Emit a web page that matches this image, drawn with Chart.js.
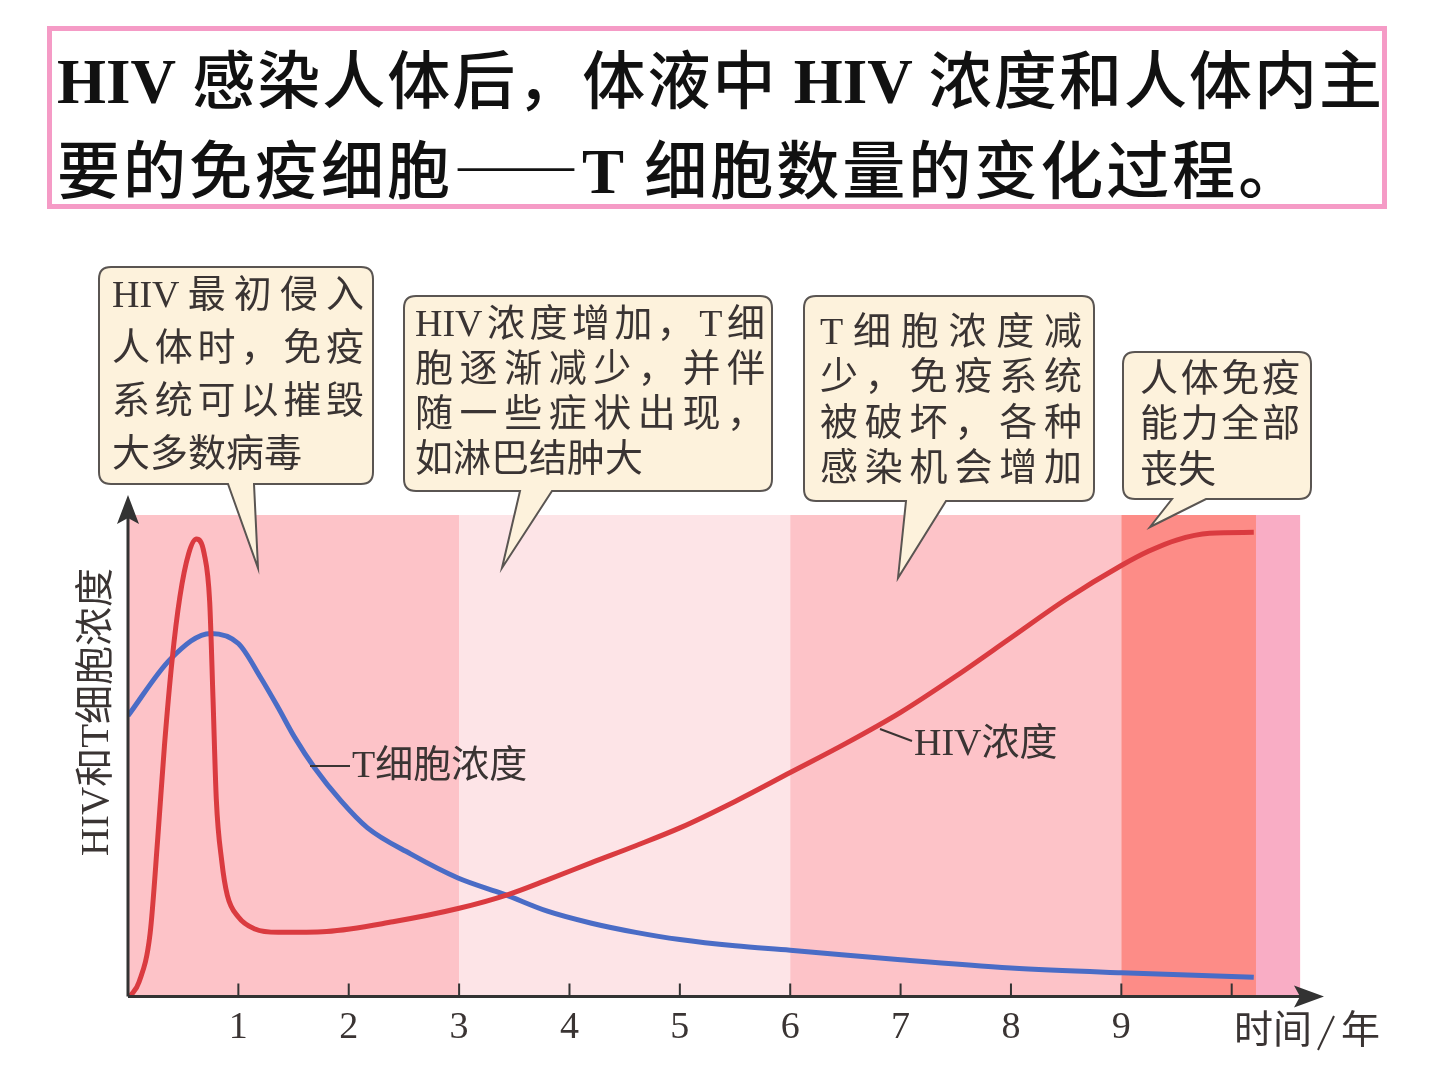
<!DOCTYPE html>
<html lang="zh">
<head>
<meta charset="utf-8">
<script src="https://cdn.jsdelivr.net/npm/chart.js@4.4.1/dist/chart.umd.min.js"></script>
<style>
    html, body { margin: 0; padding: 0; background: #fff; }
    #wrap { position: relative; width: 1440px; height: 1080px; }
    #title {
        position: absolute; left: 47px; top: 26px; width: 1325px; height: 173px;
        border: 5px solid #f59bc6; padding: 0 0 0 5px;
        font-family: "Noto Sans CJK SC", sans-serif; font-weight: 500;
        font-size: 63px; line-height: 90px; color: #111;
    }
    #title b { font-family: "Liberation Serif", serif; font-weight: bold; }
    #title div { white-space: nowrap; height: 90px; }
    #title .l1 { white-space: normal; text-align: justify; text-align-last: justify; }
    #title .l2 { letter-spacing: 3px; }
    canvas { position: absolute; left: 0; top: 0; }
</style>
</head>
<body>
<div id="wrap">
    <div id="title">
        <div class="l1"><b>HIV</b> 感染人体后，体液中 <b>HIV</b> 浓度和人体内主</div>
        <div class="l2">要的免疫细胞——<b>T</b> 细胞数量的变化过程。</div>
    </div>
    <canvas id="hiv" width="1440" height="1080"></canvas>
</div>
<script>
// 时间（年）与浓度（相对值，0-100）
const hivYears = [0.02, 0.1, 0.2, 0.27, 0.33, 0.4, 0.47, 0.55, 0.62, 0.69, 0.74, 0.77, 0.8, 0.85, 0.9, 1.0, 1.15, 1.36, 1.8, 2.4, 3.0, 3.45, 3.8, 4.2, 4.6, 5, 5.5, 6, 6.5, 7, 7.5, 8, 8.5, 9, 9.25, 9.5, 9.8, 10.2];
const hivLevel = [0, 3, 13, 33, 52, 70, 83, 92, 95, 92, 82, 62, 41, 28, 21, 16.5, 14, 13.3, 13.5, 15.5, 18.3, 21.2, 24.2, 27.8, 31.3, 35, 40.5, 46.5, 52.5, 59, 66.5, 74.5, 82.5, 89.5, 92.5, 94.8, 96.2, 96.4];
const tYears = [0, 0.39, 0.75, 1.0, 1.2, 1.36, 1.51, 1.69, 1.93, 2.17, 2.56, 2.99, 3.41, 3.8, 4.2, 4.6, 5, 5.5, 6, 7, 8, 9, 10.2];
const tLevel = [58.3, 70.2, 75.4, 73.3, 66.3, 60, 53.8, 47.5, 40.6, 35, 29.6, 24.6, 21.2, 17.7, 15.2, 13.3, 11.8, 10.5, 9.6, 7.6, 5.9, 4.9, 4.0];

const tickYears = [1, 2, 3, 4, 5, 6, 7, 8, 9];
const tickLabels = ['1', '2', '3', '4', '5', '6', '7', '8', '9'];

// 阶段背景
const stageEdges = [0, 3, 6, 9, 10.22, 10.62];
const stageColors = ['#fdc3c8', '#fde4e7', '#fdc3c8', '#fd8c87', '#f9adc5'];

const SERIF_CJK = '"Liberation Serif", "Noto Sans CJK SC", serif';

const notes = [
    { box: [99, 267, 274, 217], tail: [228, 254, 258, 568], lines: ['HIV最初侵入', '人体时，免疫', '系统可以摧毁', '大多数病毒'], x: 112, y: 297, gap: 53, w: 252, justify: [1, 1, 1, 0] },
    { box: [404, 296, 368, 195], tail: [520, 552, 502, 568], lines: ['HIV浓度增加，T细', '胞逐渐减少，并伴', '随一些症状出现，', '如淋巴结肿大'], x: 415, y: 326, gap: 45, w: 350, justify: [1, 1, 1, 0] },
    { box: [804, 296, 290, 205], tail: [906, 946, 898, 578], lines: ['T细胞浓度减', '少，免疫系统', '被破坏，各种', '感染机会增加'], x: 820, y: 334, gap: 45.5, w: 262, justify: [1, 1, 1, 1] },
    { box: [1123, 352, 188, 147], tail: [1172, 1206, 1150, 527], lines: ['人体免疫', '能力全部', '丧失'], x: 1140, y: 381, gap: 45.5, w: 160, justify: [1, 1, 0] }
];

function drawSpreadText(ctx, text, x, y, width, justify) {
    const parts = text.match(/[A-Za-z]+|./gu);
    const widths = parts.map(c => ctx.measureText(c).width);
    const natural = widths.reduce((a, b) => a + b, 0);
    const extra = justify && parts.length > 1 ? (width - natural) / (parts.length - 1) : 0;
    let cx = x;
    parts.forEach((c, i) => {
        ctx.fillText(c, cx, y);
        cx += widths[i] + extra;
    });
}

function drawNote(ctx, n) {
    const [x, y, w, h] = n.box;
    const [t1, t2, tx, ty] = n.tail;
    const r = 12;
    ctx.save();
    ctx.beginPath();
    ctx.moveTo(x + r, y);
    ctx.lineTo(x + w - r, y);
    ctx.quadraticCurveTo(x + w, y, x + w, y + r);
    ctx.lineTo(x + w, y + h - r);
    ctx.quadraticCurveTo(x + w, y + h, x + w - r, y + h);
    ctx.lineTo(t2, y + h);
    ctx.lineTo(tx, ty);
    ctx.lineTo(t1, y + h);
    ctx.lineTo(x + r, y + h);
    ctx.quadraticCurveTo(x, y + h, x, y + h - r);
    ctx.lineTo(x, y + r);
    ctx.quadraticCurveTo(x, y, x + r, y);
    ctx.closePath();
    ctx.fillStyle = '#fdf2dc';
    ctx.fill();
    ctx.strokeStyle = '#5a5552';
    ctx.lineWidth = 2;
    ctx.stroke();
    ctx.fillStyle = '#3a3433';
    ctx.font = '38px ' + SERIF_CJK;
    ctx.textBaseline = 'middle';
    ctx.textAlign = 'left';
    n.lines.forEach((line, i) => {
        drawSpreadText(ctx, line, n.x, n.y + i * n.gap, n.w, n.justify[i]);
    });
    ctx.restore();
}

const stagePlugin = {
    id: 'stages',
    beforeDatasetsDraw(chart) {
        const { ctx, scales: { x, y } } = chart;
        const top = y.getPixelForValue(100);
        const bottom = y.getPixelForValue(0);
        ctx.save();
        for (let i = 0; i < stageColors.length; i++) {
            const x0 = x.getPixelForValue(stageEdges[i]);
            const x1 = x.getPixelForValue(stageEdges[i + 1]);
            ctx.fillStyle = stageColors[i];
            ctx.fillRect(x0, top, x1 - x0, bottom - top);
        }
        ctx.restore();
    },
    afterDatasetsDraw(chart) {
        const { ctx, scales: { x, y } } = chart;
        const x0 = x.getPixelForValue(0);
        const y0 = y.getPixelForValue(0);
        const yTop = y.getPixelForValue(100);
        ctx.save();
        ctx.strokeStyle = '#333';
        ctx.fillStyle = '#333';
        ctx.lineWidth = 3;
        // 坐标轴
        ctx.beginPath();
        ctx.moveTo(x0, y0);
        ctx.lineTo(x0, yTop + 3);
        ctx.moveTo(x0, y0);
        ctx.lineTo(1300, y0);
        ctx.stroke();
        ctx.beginPath();
        ctx.moveTo(x0, yTop - 20);
        ctx.lineTo(x0 + 11, yTop + 9);
        ctx.lineTo(x0, yTop + 3);
        ctx.lineTo(x0 - 11, yTop + 9);
        ctx.closePath();
        ctx.fill();
        ctx.beginPath();
        ctx.moveTo(1324, y0);
        ctx.lineTo(1294, y0 - 11);
        ctx.lineTo(1300, y0);
        ctx.lineTo(1294, y0 + 11);
        ctx.closePath();
        ctx.fill();
        // 刻度
        ctx.lineWidth = 2;
        ctx.beginPath();
        tickYears.concat([10]).forEach(v => {
            const px = x.getPixelForValue(v);
            ctx.moveTo(px, y0);
            ctx.lineTo(px, y0 - 13);
        });
        ctx.stroke();

        // 轴标题
        ctx.fillStyle = '#3a3433';
        ctx.font = '39px ' + SERIF_CJK;
        ctx.textBaseline = 'middle';
        ctx.textAlign = 'left';
        ctx.fillText('时间', 1234, 1033);
        ctx.save();
        ctx.lineWidth = 2;
        ctx.strokeStyle = '#3a3433';
        ctx.beginPath();
        ctx.moveTo(1334, 1016);
        ctx.lineTo(1318, 1050);
        ctx.stroke();
        ctx.restore();
        ctx.fillText('年', 1341, 1033);
        ctx.save();
        ctx.font = '39px ' + SERIF_CJK;
        ctx.translate(98, 712);
        ctx.rotate(-Math.PI / 2);
        ctx.textAlign = 'center';
        ctx.fillText('HIV和T细胞浓度', 0, 0);
        ctx.restore();

        // 曲线标注
        ctx.font = '38px ' + SERIF_CJK;
        ctx.textAlign = 'left';
        ctx.strokeStyle = '#3a3433';
        ctx.lineWidth = 2;
        ctx.beginPath();
        ctx.moveTo(310, 766);
        ctx.lineTo(350, 766);
        ctx.moveTo(880, 729);
        ctx.lineTo(912, 741);
        ctx.stroke();
        ctx.fillText('T细胞浓度', 352, 767);
        ctx.fillText('HIV浓度', 914, 745);

        notes.forEach(n => drawNote(ctx, n));
        ctx.restore();
    }
};

new Chart(document.getElementById('hiv'), {
    type: 'line',
    data: {
        datasets: [
            {
                label: 'HIV浓度',
                data: hivYears.map((v, i) => ({ x: v, y: hivLevel[i] })),
                borderColor: '#da3b40',
                borderWidth: 5,
                pointRadius: 0,
                fill: false,
                cubicInterpolationMode: 'monotone'
            },
            {
                label: 'T细胞浓度',
                data: tYears.map((v, i) => ({ x: v, y: tLevel[i] })),
                borderColor: '#4a6cc6',
                borderWidth: 5,
                pointRadius: 0,
                fill: false,
                cubicInterpolationMode: 'monotone'
            }
        ]
    },
    options: {
        responsive: false,
        animation: false,
        layout: { padding: { left: 128, right: 120, top: 515, bottom: 28 } },
        plugins: {
            legend: { display: false },
            tooltip: { enabled: false }
        },
        scales: {
            x: {
                type: 'linear',
                min: 0,
                max: 10.8,
                grid: { display: false },
                border: { display: false },
                ticks: {
                    stepSize: 1,
                    autoSkip: false,
                    maxRotation: 0,
                    padding: 1,
                    color: '#3a3433',
                    font: { family: '"Liberation Serif", serif', size: 38 },
                    callback: v => {
                        const i = tickYears.indexOf(v);
                        return i >= 0 ? tickLabels[i] : '';
                    }
                }
            },
            y: { display: false, min: 0, max: 100 }
        }
    },
    plugins: [stagePlugin]
});
</script>
</body>
</html>
